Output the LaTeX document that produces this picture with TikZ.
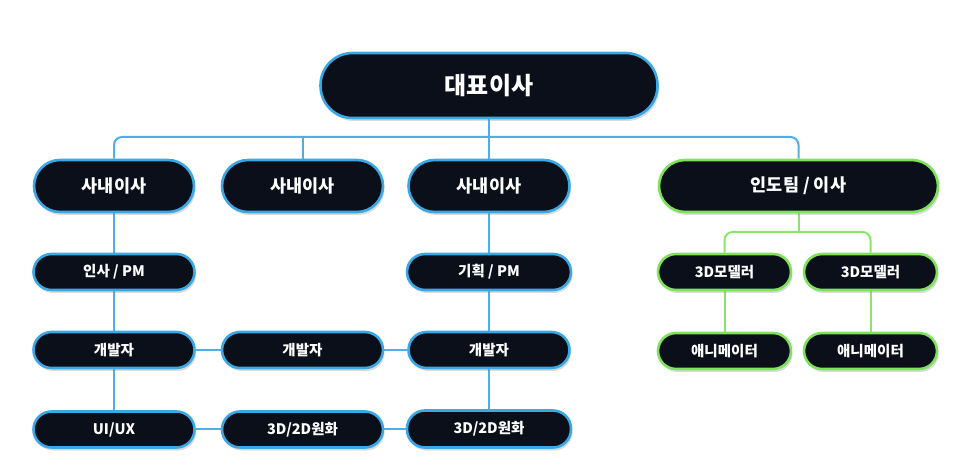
\documentclass[tikz,border=0pt]{standalone}
\usepackage{fontspec}
\newfontfamily\kr{Noto Sans CJK KR}
\usetikzlibrary{shadows,backgrounds}
\definecolor{navy}{HTML}{0B0F1A}
\definecolor{bblue}{HTML}{3BA8E6}
\definecolor{lblue}{HTML}{4BB0EA}
\definecolor{bgreen}{HTML}{7EE35A}
\definecolor{lgreen}{HTML}{8BE66A}
\tikzset{
  box/.style={rectangle, draw=bblue, line width=2.6pt, fill=navy, text=white,
    inner sep=0pt, drop shadow={shadow xshift=1.5pt, shadow yshift=-3pt, opacity=0.28}},
  bigbox/.style={box, minimum height=52pt, rounded corners=26pt, font=\kr\bfseries\fontsize{17.5}{19}\selectfont},
  topbox/.style={box, minimum height=65pt, minimum width=337pt, rounded corners=32pt, font=\kr\bfseries\fontsize{24}{26}\selectfont},
  smallbox/.style={box, minimum height=36pt, rounded corners=18pt, font=\kr\bfseries\fontsize{14.5}{16}\selectfont},
  greenb/.style={draw=bgreen},
  conn/.style={draw=lblue, line width=2pt},
  gconn/.style={draw=lgreen, line width=2pt},
}
\begin{document}
\begin{tikzpicture}[x=1pt,y=-1pt]
\useasboundingbox (0,0) rectangle (978,470);
% top
\node[topbox] (top) at (489,85.5) {대표이사};
% row 2
\node[bigbox, minimum width=160pt] (n1) at (114,186) {사내이사};
\node[bigbox, minimum width=161pt] (n2) at (302.5,186) {사내이사};
\node[bigbox, minimum width=161pt] (n3) at (489,186) {사내이사};
\node[bigbox, greenb, minimum width=279pt] (n4) at (798.5,186) {인도팀 / 이사};
% row 3
\node[smallbox, minimum width=161pt] (p1) at (114,272) {인사 / PM};
\node[smallbox, minimum width=164pt] (p2) at (489,272) {기획 / PM};
\node[smallbox, greenb, minimum width=133pt] (m1) at (724.5,272) {3D모델러};
\node[smallbox, greenb, minimum width=133pt] (m2) at (870.5,272) {3D모델러};
% row 4
\node[smallbox, minimum width=161pt] (d1) at (114,350) {개발자};
\node[smallbox, minimum width=161pt] (d2) at (302.5,350) {개발자};
\node[smallbox, minimum width=161pt] (d3) at (489,350) {개발자};
\node[smallbox, greenb, minimum width=133pt] (a1) at (724.5,351) {애니메이터};
\node[smallbox, greenb, minimum width=133pt] (a2) at (870.5,351) {애니메이터};
% row 5
\node[smallbox, minimum width=161pt] (u1) at (114,429.5) {UI/UX};
\node[smallbox, minimum width=161pt] (w2) at (302.5,429.5) {3D/2D원화};
\node[smallbox, minimum width=164pt, minimum height=37pt] (w3) at (489,429) {3D/2D원화};
\coordinate (bus) at (489,137);
\coordinate (gb) at (798.5,232);
\begin{scope}[on background layer]
\fill[white] (0,0) rectangle (978,470);
\draw[conn, rounded corners=8pt] (n1.north) |- (bus) -| (n4.north);
\draw[conn] (n2.north) -- (n2.north |- bus);
\draw[conn] (top.south) -- (n3.north);
\draw[conn] (n1.south) -- (p1.north);
\draw[conn] (p1.south) -- (d1.north);
\draw[conn] (d1.south) -- (u1.north);
\draw[conn] (n3.south) -- (p2.north);
\draw[conn] (p2.south) -- (d3.north);
\draw[conn] (d3.south) -- (w3.north);
\draw[conn] (d1.east) -- (d2.west);
\draw[conn] (d2.east) -- (d3.west);
\draw[conn] (u1.east) -- (w2.west);
\draw[conn] (w2.east) -- (w2.east -| w3.west);
\draw[gconn] (n4.south) -- (gb);
\draw[gconn, rounded corners=8pt] (m1.north) |- (gb) -| (m2.north);
\draw[gconn] (m1.south) -- (a1.north);
\draw[gconn] (m2.south) -- (a2.north);
\end{scope}
\end{tikzpicture}
\end{document}
